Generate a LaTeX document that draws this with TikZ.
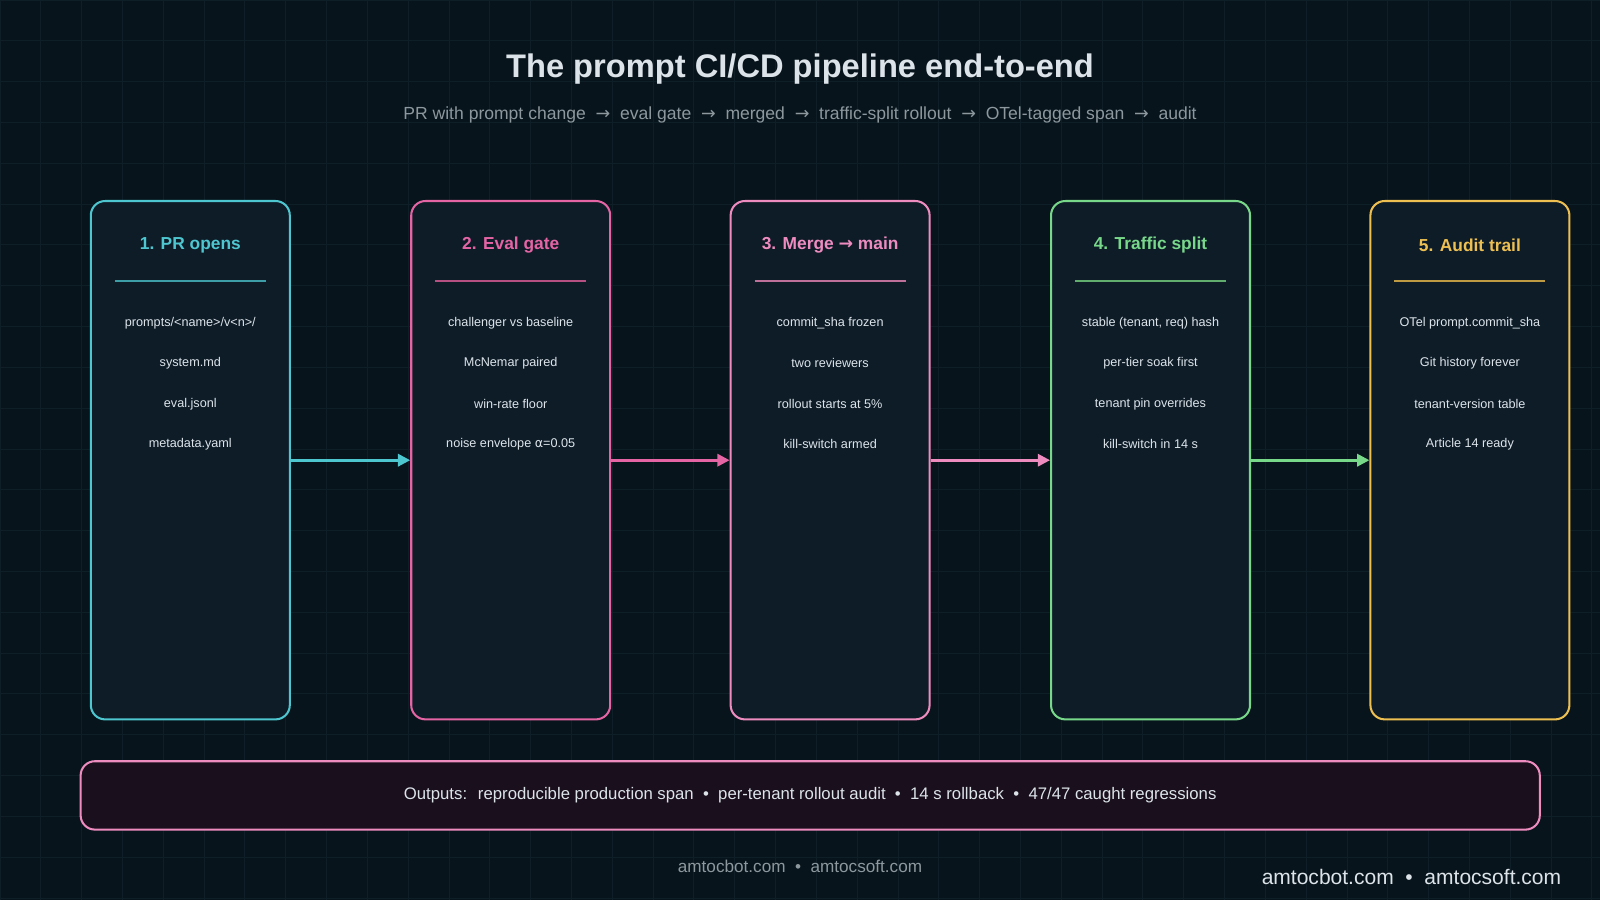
\documentclass[tikz,border=0pt]{standalone}
\usepackage{fontspec}
\setmainfont{Liberation Sans}
\newfontfamily\dv{DejaVu Sans}
\usetikzlibrary{arrows.meta}
\definecolor{bg}{HTML}{08141B}
\definecolor{gridc}{HTML}{0F1F27}
\definecolor{boxf}{HTML}{0E1C28}
\definecolor{cy}{HTML}{4EC6D0}
\definecolor{pk}{HTML}{E464A4}
\definecolor{lp}{HTML}{EE8CC0}
\definecolor{gr}{HTML}{78D88A}
\definecolor{ye}{HTML}{EEC052}
\definecolor{txt}{HTML}{DCE4EA}
\definecolor{sub}{HTML}{8C979E}
\definecolor{outf}{HTML}{1A0F1C}
\begin{document}
\begin{tikzpicture}[x=0.5pt,y=-0.5pt,
  stage/.style={draw=#1,line width=1pt,fill=boxf,rounded corners=7pt,minimum width=97.5pt,minimum height=254pt,inner sep=0pt},
  ttl/.style={text=#1,font=\bfseries\fontsize{8.5}{10}\selectfont},
  item/.style={text=txt,font=\fontsize{6.2}{7}\selectfont},
  conn/.style={draw=#1,line width=1.3pt,-{Triangle[length=6pt,width=6pt]}}]
\fill[bg] (0,0) rectangle (1568,882);
\useasboundingbox (0,0) rectangle (1568,882);
\foreach \i in {0,40,...,1560} \draw[gridc,line width=0.4pt] (\i,0) -- (\i,882);
\foreach \j in {0,40,...,880} \draw[gridc,line width=0.4pt] (0,\j) -- (1568,\j);
\node (title) at (784,68) [text=txt,font=\bfseries\fontsize{16}{18}\selectfont] {The prompt CI/CD pipeline end-to-end};
\node (subt) at (784,113) [text=sub,font=\fontsize{8.6}{10}\selectfont] {PR with prompt change \ {\dv→} \ eval gate \ {\dv→} \ merged \ {\dv→} \ traffic-split rollout \ {\dv→} \ OTel-tagged span \ {\dv→} \ audit};
\foreach \n/\x/\c/\t/\a/\b/\cc/\d in {
 1/186.5/cy/{1. PR opens}/{prompts/<name>/v<n>/}/{system.md}/{eval.jsonl}/{metadata.yaml},
 2/500.5/pk/{2. Eval gate}/{challenger vs baseline}/{McNemar paired}/{win-rate floor}/{noise envelope {\dv α}=0.05},
 3/813.5/lp/{3. Merge {\dv→} main}/{commit\_sha frozen}/{two reviewers}/{rollout starts at 5\%}/{kill-switch armed},
 4/1127.5/gr/{4. Traffic split}/{stable (tenant, req) hash}/{per-tier soak first}/{tenant pin overrides}/{kill-switch in 14 s},
 5/1440.5/ye/{5. Audit trail}/{OTel prompt.commit\_sha}/{Git history forever}/{tenant-version table}/{Article 14 ready}}{
  \node[stage=\c] (s\n) at (\x,451) {};
  \node[ttl=\c] (t\n) at (\x,240) {\t};
  \draw[\c!80!black,line width=1pt] (\x-74,275) -- (\x+74,275);
  \node[item] (a\n) at (\x,317) {\a};
  \node[item] (b\n) at (\x,356) {\b};
  \node[item] (c\n) at (\x,396) {\cc};
  \node[item] (d\n) at (\x,435) {\d};
}
\draw[conn=cy] (s1.east) -- (s2.west);
\draw[conn=pk] (s2.east) -- (s3.west);
\draw[conn=lp] (s3.east) -- (s4.west);
\draw[conn=gr] (s4.east) -- (s5.west);
\node (out) at (794,779.5) [draw=lp,line width=1pt,fill=outf,rounded corners=7pt,minimum width=715pt,minimum height=33.5pt,text=txt,font=\fontsize{8.2}{10}\selectfont] {Outputs: \ reproducible production span \ • \ per-tenant rollout audit \ • \ 14 s rollback \ • \ 47/47 caught regressions};
\node (foot) at (784,849) [text=sub,font=\fontsize{8.4}{10}\selectfont] {amtocbot.com \ • \ amtocsoft.com};
\node (foot2) at (1537,859) [anchor=east,text=txt,font=\fontsize{10.3}{12}\selectfont] {amtocbot.com \ • \ amtocsoft.com};
\end{tikzpicture}
\end{document}
